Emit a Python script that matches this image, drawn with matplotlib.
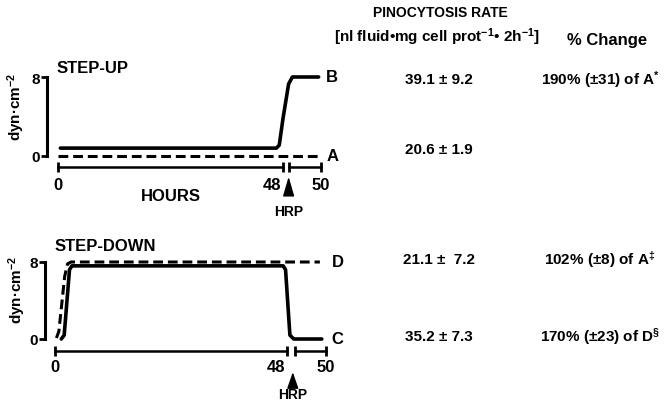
import matplotlib
matplotlib.use("Agg")
import matplotlib.pyplot as plt
import numpy as np

W, H = 664, 402
plt.rcParams['font.family'] = ['Liberation Sans', 'DejaVu Sans']
plt.rcParams['font.weight'] = 'bold'
plt.rcParams['mathtext.fontset'] = 'custom'
plt.rcParams['mathtext.rm'] = 'Liberation Sans:bold'
plt.rcParams['mathtext.default'] = 'rm'

# curves, hours vs shear stress (dyn/cm2)
up_B_h = [0.5, 46.6, 47.2, 48.0, 48.3, 48.5, 49.9]
up_B_y = [0.8, 0.8, 1.1, 3.8, 7.3, 8.0, 8.0]
up_A_h = [0.0, 49.9]
up_A_y = [0.0, 0.0]
down_D_h = [0.3, 0.8, 2.0, 2.6, 3.3, 49.7]
down_D_y = [0.1, 0.8, 6.5, 7.8, 8.0, 8.0]
down_C_h = [1.3, 1.9, 3.0, 3.5, 47.2, 47.7, 48.15, 48.35, 49.8]
down_C_y = [0.0, 0.4, 7.2, 7.6, 7.6, 7.2, 0.4, 0.0, 0.0]

rate_labels = ["39.1 \u00b1 9.2", "20.6 \u00b1 1.9", "21.1 \u00b1  7.2", "35.2 \u00b1 7.3"]
change_labels = ["190% (\u00b131) of A$^{*}$", "", "102% (\u00b18) of A$^{\u2021}$",
                 "170% (\u00b123) of D$^{\u00a7}$"]
row_y = [80, 150, 260, 337]

K = 4.0  # stretch of the 48-50 h piece


def fwd(h):
    h = np.asarray(h, dtype=float)
    return np.where(h <= 48, h, 48 + (h - 48) * K)


def inv(p):
    p = np.asarray(p, dtype=float)
    return np.where(p <= 48, p, 48 + (p - 48) / K)


def place(ax, px0, px48, py0, py8, xlo, xhi, ylo, yhi):
    sx = (px48 - px0) / 48.0
    left = px0 + float(fwd(xlo)) * sx
    right = px0 + float(fwd(xhi)) * sx
    sy = (py0 - py8) / 8.0
    top = py8 - (yhi - 8) * sy
    bottom = py0 - ylo * sy
    ax.set_position([left / W, 1 - bottom / H, (right - left) / W, (bottom - top) / H])
    ax.set_xscale('function', functions=(fwd, inv))
    ax.set_xlim(xlo, xhi)
    ax.set_ylim(ylo, yhi)


def style(ax, yline, ylab, ytip, ybase, yhrp, right_start, head):
    for s in ['top', 'right', 'bottom']:
        ax.spines[s].set_visible(False)
    ax.spines['left'].set_bounds(0, 8)
    ax.spines['left'].set_linewidth(2.2)
    ax.set_xticks([])
    ax.set_yticks([0, 8])
    ax.tick_params(axis='y', length=4, width=2, labelsize=11, pad=1)
    ax.plot([0, 48], [yline, yline], color='k', lw=1.8, marker='|', ms=7, mew=2, clip_on=False)
    ax.plot([right_start, 50], [yline, yline], color='k', lw=1.8, marker='|', ms=7, mew=2, clip_on=False)
    ax.text(0, ylab, "0", ha='center', va='center', fontsize=12)
    ax.text(47.7, ylab, "48", ha='right', va='center', fontsize=12)
    ax.text(50, ylab, "50", ha='center', va='center', fontsize=12)
    ax.annotate("", xy=(48.3, ytip), xytext=(48.3, ybase), annotation_clip=False,
                arrowprops=dict(arrowstyle='-|>,head_length=%g,head_width=0.35' % head,
                                color='k', lw=1, shrinkA=0, shrinkB=0))
    ax.text(48.3, yhrp, "HRP", ha='center', va='center', fontsize=10)


fig = plt.figure(figsize=(W / 100, H / 100), dpi=100)

ax1 = fig.add_axes([0, 0, 1, 1])
place(ax1, 58, 283, 157, 78, -2.3, 51, -6, 9)
ax1.plot(up_B_h, up_B_y, color='k', lw=2.6, solid_capstyle='round', solid_joinstyle='round')
ax1.plot(up_A_h, up_A_y, color='k', lw=2.2, dashes=(3.2, 1.6))
ax1.text(50.3, 8, "B", ha='left', va='center', fontsize=12)
ax1.text(50.3, 0, "A", ha='left', va='center', fontsize=12)
style(ax1, -1.11, -2.84, -2.1, -3.85, -5.6, 48.3, 1.2)
ax1.text(24, -4.05, "HOURS", ha='center', va='center', fontsize=12)

ax2 = fig.add_axes([0, 0, 1, 1])
place(ax2, 55, 287, 340, 263, -2.1, 51, -6.5, 9)
ax2.plot(down_D_h, down_D_y, color='k', lw=2.2, dashes=(3.2, 1.6))
ax2.plot(down_C_h, down_C_y, color='k', lw=2.6, solid_capstyle='round', solid_joinstyle='round')
ax2.text(50.3, 8, "D", ha='left', va='center', fontsize=12)
ax2.text(50.3, 0, "C", ha='left', va='center', fontsize=12)
style(ax2, -1.25, -2.9, -3.45, -4.9, -5.75, 48.4, 1.0)

fig.text(16 / W, 1 - 107 / H, "dyn\u00b7cm$^{-2}$", rotation=90, ha='center', va='center', fontsize=11)
fig.text(17 / W, 1 - 290 / H, "dyn\u00b7cm$^{-2}$", rotation=90, ha='center', va='center', fontsize=11)

fig.text(57 / W, 1 - 69 / H, "STEP-UP", ha='left', va='center', fontsize=12)
fig.text(55 / W, 1 - 247 / H, "STEP-DOWN", ha='left', va='center', fontsize=12)

fig.text(440 / W, 1 - 13 / H, "PINOCYTOSIS RATE", ha='center', va='center', fontsize=10)
fig.text(437 / W, 1 - 37 / H, "[nl fluid\u2022mg cell prot$^{-1}$\u2022 2h$^{-1}$]",
         ha='center', va='center', fontsize=11)
fig.text(607 / W, 1 - 40 / H, "% Change", ha='center', va='center', fontsize=12)

for y, r, c in zip(row_y, rate_labels, change_labels):
    fig.text(439 / W, 1 - y / H, r, ha='center', va='center', fontsize=11)
    if c:
        fig.text(600 / W, 1 - y / H, c, ha='center', va='center', fontsize=11)

fig.savefig("out.png", dpi=100)
